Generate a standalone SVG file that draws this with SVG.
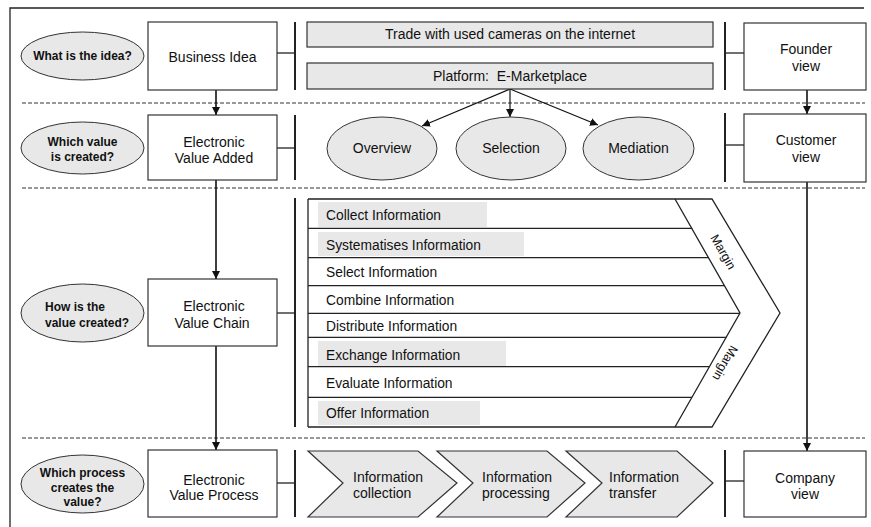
<svg xmlns="http://www.w3.org/2000/svg" width="871" height="527" viewBox="0 0 871 527">
<defs>
<marker id="ah" viewBox="0 0 8 8" refX="8" refY="4" markerWidth="8" markerHeight="8" markerUnits="userSpaceOnUse" orient="auto">
<path d="M0,0 L8,4 L0,8 Z" fill="#111"/>
</marker>
<style>
.box{fill:#fff;stroke:#333;stroke-width:1.2}
.gbox{fill:#e8e8e8;stroke:#333;stroke-width:1.2}
.ell{fill:#e8e8e8;stroke:#333;stroke-width:1}
.hl{fill:#e8e8e8;stroke:none}
.ln{stroke:#222;stroke-width:1.3;fill:none}
.br{stroke:#222;stroke-width:2;fill:none}
.dash{stroke:#333;stroke-width:1;stroke-dasharray:4 2;fill:none}
.arr{stroke:#111;stroke-width:1.6;fill:none;marker-end:url(#ah)}
.thin{stroke:#111;stroke-width:1.2;fill:none;marker-end:url(#ah)}
text{font-family:"Liberation Sans",Arial,sans-serif;fill:#111}
.t{font-size:14px;text-anchor:middle}
.tl{font-size:13.8px}
.pl{font-size:14px}
.q{font-size:12px;font-weight:bold;text-anchor:middle}
.ql{font-size:12px;font-weight:bold}
.m{font-size:12.5px;text-anchor:middle}
</style>
</defs>
<rect width="871" height="527" fill="#fff"/>
<!-- frame -->
<path class="ln" d="M10,527 V8 H864"/>
<!-- dashed separators -->
<g id="separators">
<line class="dash" x1="22" y1="103" x2="865" y2="103"/>
<line class="dash" x1="22" y1="188" x2="865" y2="188"/>
<line class="dash" x1="22" y1="438" x2="865" y2="438"/>
</g>
<!-- connectors -->
<g id="connectors">
<line class="arr" x1="216" y1="90" x2="216" y2="115"/>
<line class="arr" x1="216" y1="180" x2="216" y2="279"/>
<line class="arr" x1="216" y1="346" x2="216" y2="450"/>
<line class="arr" x1="807" y1="90" x2="807" y2="114"/>
<line class="arr" x1="807" y1="182" x2="807" y2="451"/>
<line class="thin" x1="510" y1="89" x2="422" y2="126"/>
<line class="thin" x1="510" y1="89" x2="510" y2="117"/>
<line class="thin" x1="510" y1="89" x2="598" y2="125"/>
<!-- brackets -->
<path class="ln" d="M277,53 H295"/><path class="br" d="M295,22 V90"/>
<path class="ln" d="M277,148 H295"/><path class="br" d="M295,115 V180"/>
<path class="ln" d="M277,313 H295"/><path class="br" d="M295,198 V427"/>
<path class="ln" d="M277,483 H295"/><path class="br" d="M295,450 V517"/>
<path class="ln" d="M725,53 H744"/><path class="br" d="M725,22 V90"/>
<path class="ln" d="M725,145 H744"/><path class="br" d="M725,113 V182"/>
<path class="ln" d="M725,481 H744"/><path class="br" d="M725,450 V517"/>
</g>
<!-- question ellipses -->
<g id="q1"><ellipse class="ell" cx="82.5" cy="56" rx="61.5" ry="24"/><text class="q" x="82.5" y="60">What is the idea?</text></g>
<g id="q2"><ellipse class="ell" cx="82.5" cy="148" rx="61.5" ry="26"/><text class="q" x="82.5" y="146">Which value</text><text class="q" x="82.5" y="161">is created?</text></g>
<g id="q3"><ellipse class="ell" cx="82.5" cy="313" rx="61.5" ry="29"/><text class="ql" x="45" y="311">How is the</text><text class="ql" x="45" y="327">value created?</text></g>
<g id="q4"><ellipse class="ell" cx="82.5" cy="484" rx="61.5" ry="29"/><text class="q" x="82.5" y="477">Which process</text><text class="q" x="82.5" y="492">creates the</text><text class="q" x="82.5" y="506">value?</text></g>
<!-- left boxes -->
<g id="business-idea"><rect class="box" x="148" y="22" width="129" height="68"/><text class="t" x="212.5" y="62">Business Idea</text></g>
<g id="eva"><rect class="box" x="148" y="115" width="129" height="65"/><text class="t" x="214" y="147">Electronic</text><text class="t" x="214" y="163">Value Added</text></g>
<g id="evc"><rect class="box" x="148" y="279" width="129" height="67"/><text class="t" x="214" y="311">Electronic</text><text class="t" x="212" y="328">Value Chain</text></g>
<g id="evp"><rect class="box" x="148" y="450" width="129" height="67"/><text class="t" x="214" y="485">Electronic</text><text class="t" x="214" y="500">Value Process</text></g>
<!-- right boxes -->
<g id="founder"><rect class="box" x="744" y="23" width="122" height="67"/><text class="t" x="806" y="54">Founder</text><text class="t" x="806" y="71">view</text></g>
<g id="customer"><rect class="box" x="744" y="114" width="122" height="68"/><text class="t" x="806" y="145">Customer</text><text class="t" x="806" y="162">view</text></g>
<g id="company"><rect class="box" x="744" y="451" width="122" height="66"/><text class="t" x="805" y="483">Company</text><text class="t" x="805" y="499">view</text></g>
<!-- idea bars -->
<g id="trade"><rect class="gbox" x="307" y="22" width="406" height="25"/><text class="t" x="510" y="39">Trade with used cameras on the internet</text></g>
<g id="platform"><rect class="gbox" x="307" y="63" width="406" height="26"/><text class="t" x="510" y="81" xml:space="preserve">Platform:  E-Marketplace</text></g>
<!-- value ellipses -->
<g id="overview"><ellipse class="ell" cx="382" cy="148.5" rx="55" ry="31.5"/><text class="t" x="382" y="153">Overview</text></g>
<g id="selection"><ellipse class="ell" cx="511" cy="148.5" rx="55" ry="31.5"/><text class="t" x="511" y="153">Selection</text></g>
<g id="mediation"><ellipse class="ell" cx="638.5" cy="148.5" rx="55.5" ry="31.5"/><text class="t" x="638.5" y="153">Mediation</text></g>
<!-- value chain -->
<g id="value-chain">
<rect class="hl" x="318" y="202" width="169" height="25"/>
<rect class="hl" x="318" y="232" width="206" height="24"/>
<rect class="hl" x="318" y="341" width="188" height="25"/>
<rect class="hl" x="318" y="401" width="162" height="24"/>
<path class="ln" d="M308,199 V427"/>
<path class="ln" d="M308,199 H712 L780,313 L712,427 H308"/>
<path class="ln" d="M675,199 L740,313 L675,427"/>
<g class="ln">
<line x1="308" y1="228.3" x2="692.2" y2="228.3"/>
<line x1="308" y1="257.7" x2="708.9" y2="257.7"/>
<line x1="308" y1="285.7" x2="724.8" y2="285.7"/>
<line x1="308" y1="313.3" x2="740" y2="313.3"/>
<line x1="308" y1="337.3" x2="726.2" y2="337.3"/>
<line x1="308" y1="366.7" x2="709.5" y2="366.7"/>
<line x1="308" y1="397.3" x2="692" y2="397.3"/>
</g>
<text class="tl" x="326" y="220">Collect Information</text>
<text class="tl" x="326" y="250">Systematises Information</text>
<text class="tl" x="326" y="277">Select Information</text>
<text class="tl" x="326" y="305">Combine Information</text>
<text class="tl" x="326" y="331">Distribute Information</text>
<text class="tl" x="326" y="360">Exchange Information</text>
<text class="tl" x="326" y="388">Evaluate Information</text>
<text class="tl" x="326" y="418">Offer Information</text>
<text class="m" transform="translate(723,252) rotate(60.3)" y="4">Margin</text>
<text class="m" transform="translate(725,363) rotate(119.7)" y="4">Margin</text>
</g>
<!-- process chevrons -->
<g id="p1"><path class="gbox" d="M308,451 H418 L457,483 L418,517 H308 L343,483 Z"/><text class="pl" x="353" y="482">Information</text><text class="pl" x="353" y="498">collection</text></g>
<g id="p2"><path class="gbox" d="M437,451 H547 L585,483 L547,517 H437 L473,483 Z"/><text class="pl" x="482" y="482">Information</text><text class="pl" x="482" y="498">processing</text></g>
<g id="p3"><path class="gbox" d="M566,451 H677 L713,483 L677,517 H566 L602,483 Z"/><text class="pl" x="609" y="482">Information</text><text class="pl" x="609" y="498">transfer</text></g>
</svg>
